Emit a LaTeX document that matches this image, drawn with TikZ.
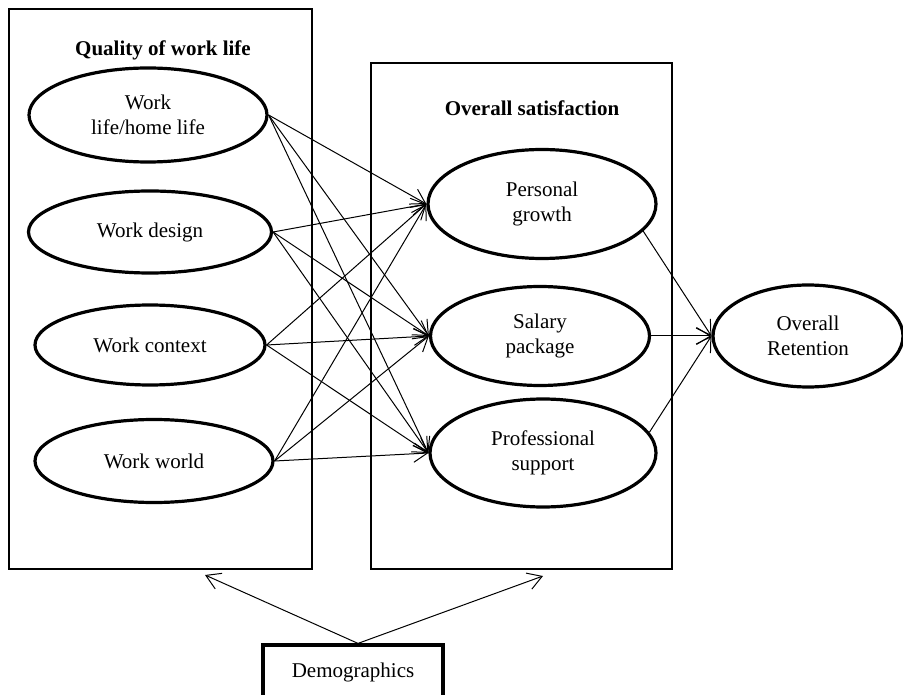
\documentclass[tikz,border=0pt]{standalone}
\usepackage{fontspec}
\setmainfont{Liberation Serif}
\usetikzlibrary{shapes.geometric,arrows.meta}
\begin{document}
\begin{tikzpicture}[x=1pt,y=-1pt,
  every node/.style={font=\fontsize{21}{25.5}\selectfont},
  oval/.style={ellipse, draw, line width=3.2pt, inner sep=0pt, align=center},
  frame/.style={draw, line width=1.2pt},
  titletext/.style={font=\fontsize{21}{25.5}\selectfont\bfseries},
  link/.style={line width=1pt, -{Straight Barb[length=14pt,width=17pt,line width=1pt]}}
]
\useasboundingbox (0,0) rectangle (903,695);
\fill[white] (0,0) rectangle (903,695);

% frames
\draw[frame] (9,9) rectangle (312,569);
\draw[frame] (371,63) rectangle (672,569);
\node[titletext] (t1) at (163,50) {Quality of work life};
\node[titletext] (t2) at (532,108) {Overall satisfaction};

% left ellipses
\node[oval, minimum width=238, minimum height=94] (wl) at (148,115) {Work\\life/home life};
\node[oval, minimum width=243, minimum height=82] (wd) at (150,232) {Work design};
\node[oval, minimum width=230, minimum height=80] (wc) at (150,345) {Work context};
\node[oval, minimum width=238, minimum height=83] (ww) at (154,461) {Work world};

% middle ellipses
\node[oval, minimum width=228, minimum height=109] (pg) at (542,204) {Personal\\growth};
\node[oval, minimum width=219, minimum height=99] (sp) at (540,336) {Salary\\package};
\node[oval, minimum width=226, minimum height=108] (ps) at (543,453) {Professional\\support};

% right ellipse
\node[oval, minimum width=190, minimum height=102] (or) at (808,336) {Overall\\Retention};

% demographics
\node[draw, line width=3.2pt, minimum width=180, minimum height=55, inner sep=0pt] (demo) at (353,672.5) {Demographics};
\coordinate (lbox) at (205,575);
\coordinate (mbox) at (543,576);

% links left -> middle
\foreach \s in {wl,wd,wc,ww}{
  \foreach \t in {pg,sp,ps}{
    \draw[link] (\s.east) -- (\t.west);
  }
}

% links middle -> right
\draw[link] (pg.-15) -- (or.west);
\draw[link] (sp.east) -- (or.west);
\draw[link] (ps.11) -- (or.west);

% demographics arrows
\draw[link] ([xshift=5pt]demo.north) -- (lbox);
\draw[link] ([xshift=5pt]demo.north) -- (mbox);
\end{tikzpicture}
\end{document}
